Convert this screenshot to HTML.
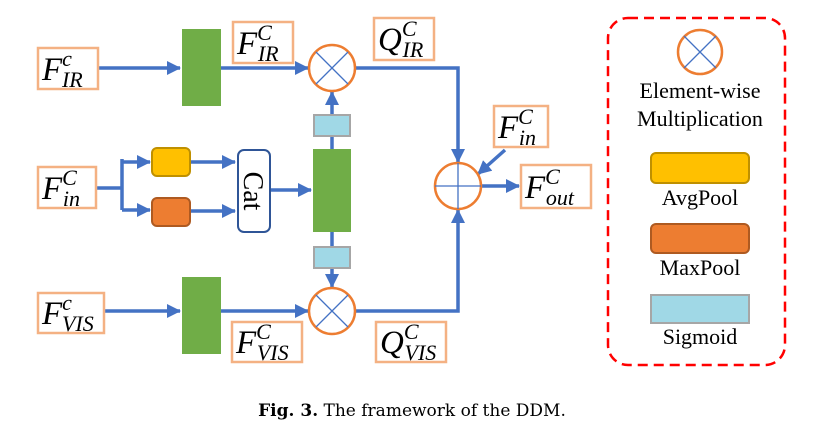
<!DOCTYPE html>
<html><head><meta charset="utf-8"><style>body{margin:0;background:#fff}svg{display:block}</style></head><body>
<svg width="824" height="437" viewBox="0 0 824 437" xmlns="http://www.w3.org/2000/svg">
<defs><marker id="b" markerWidth="14" markerHeight="14" refX="13" refY="7" orient="auto" markerUnits="userSpaceOnUse"><path d="M0,0 L14,7 L0,14 Z" fill="#4472c4"/></marker></defs>
<g fill="none" stroke="#4472c4" stroke-width="3.5">
<path d="M98 68 H180" marker-end="url(#b)"/>
<path d="M221 68 H308" marker-end="url(#b)"/>
<path d="M355 68 H458 V162" marker-end="url(#b)"/>
<path d="M104 311 H180" marker-end="url(#b)"/>
<path d="M221 311 H308" marker-end="url(#b)"/>
<path d="M355 311 H458 V210" marker-end="url(#b)"/>
<path d="M96 188 H122 M122 159 V210"/>
<path d="M122 162 H150" marker-end="url(#b)"/>
<path d="M122 210 H150" marker-end="url(#b)"/>
<path d="M190 162 H235" marker-end="url(#b)"/>
<path d="M190 211 H235" marker-end="url(#b)"/>
<path d="M270 190 H311" marker-end="url(#b)"/>
<path d="M332 149 V92" marker-end="url(#b)"/>
<path d="M332 232 V287" marker-end="url(#b)"/>
<path d="M505 150 L478 174" marker-end="url(#b)"/>
<path d="M481 186 H519" marker-end="url(#b)"/>
</g>
<g fill="#70ad47"><rect x="182" y="29" width="39" height="77"/><rect x="313" y="149" width="38" height="83"/><rect x="182" y="277" width="39" height="77"/></g>
<g fill="#a0d8e6" stroke="#a6a6a6" stroke-width="2"><rect x="314" y="115" width="36" height="21"/><rect x="314" y="247" width="36" height="21"/><rect x="651" y="295" width="98" height="28"/></g>
<g fill="#ffc000" stroke="#bf9000" stroke-width="2"><rect x="152" y="148" width="38" height="28" rx="5"/><rect x="651" y="153" width="98" height="30" rx="5"/></g>
<g fill="#ed7d31" stroke="#ae5a21" stroke-width="2"><rect x="152" y="198" width="38" height="28" rx="5"/><rect x="651" y="224" width="98" height="29" rx="5"/></g>
<rect x="238" y="150" width="32" height="82" rx="6" fill="#fff" stroke="#2f5597" stroke-width="2"/>
<text transform="translate(244,191) rotate(90)" text-anchor="middle" font-family="Liberation Serif,serif" font-size="28">Cat</text>
<g fill="#fff" stroke="#ed7d31" stroke-width="2.5">
<circle cx="332" cy="68" r="23"/><circle cx="332" cy="311" r="23"/><circle cx="458" cy="186" r="23"/><circle cx="700" cy="52" r="22"/></g>
<g stroke="#4472c4" stroke-width="1.3">
<path d="M316 52 L348 84 M348 52 L316 84"/><path d="M316 295 L348 327 M348 295 L316 327"/>
<path d="M435 186 H481 M458 163 V209"/><path d="M684 36 L716 68 M716 36 L684 68"/></g>
<g fill="#fff" stroke="#f4b183" stroke-width="2.5">
<rect x="38" y="48" width="60" height="41"/><rect x="233" y="22" width="60" height="41"/><rect x="374" y="18" width="60" height="42"/>
<rect x="38" y="167" width="58" height="41"/><rect x="494" y="106" width="54" height="41"/><rect x="521" y="165" width="70" height="43"/>
<rect x="38" y="293" width="66" height="40"/><rect x="232" y="322" width="70" height="40"/><rect x="376" y="322" width="70" height="40"/></g>
<g font-family="Liberation Serif,serif" font-style="italic" fill="#000">
<text x="42" y="80" font-size="33">F<tspan font-size="22" dy="-14">c</tspan><tspan font-size="22" dx="-10" dy="21">IR</tspan></text>
<text x="237" y="54" font-size="33">F<tspan font-size="22" dy="-14">C</tspan><tspan font-size="22" dx="-14" dy="21">IR</tspan></text>
<text x="378" y="50" font-size="33">Q<tspan font-size="22" dy="-14">C</tspan><tspan font-size="22" dx="-14" dy="21">IR</tspan></text>
<text x="42" y="199" font-size="33">F<tspan font-size="22" dy="-14">C</tspan><tspan font-size="22" dx="-14" dy="21">in</tspan></text>
<text x="498" y="138" font-size="33">F<tspan font-size="22" dy="-14">C</tspan><tspan font-size="22" dx="-14" dy="21">in</tspan></text>
<text x="525" y="198" font-size="33">F<tspan font-size="22" dy="-14">C</tspan><tspan font-size="22" dx="-14" dy="21">out</tspan></text>
<text x="42" y="324" font-size="33">F<tspan font-size="22" dy="-14">c</tspan><tspan font-size="22" dx="-10" dy="21">VIS</tspan></text>
<text x="236" y="353" font-size="33">F<tspan font-size="22" dy="-14">C</tspan><tspan font-size="22" dx="-14" dy="21">VIS</tspan></text>
<text x="380" y="353" font-size="33">Q<tspan font-size="22" dy="-14">C</tspan><tspan font-size="22" dx="-14" dy="21">VIS</tspan></text>
</g>
<rect x="608" y="18" width="177" height="347" rx="20" fill="none" stroke="#ff0000" stroke-width="2.5" stroke-dasharray="10,6"/>
<g font-family="Liberation Serif,serif" font-size="22" text-anchor="middle" fill="#000">
<text x="700" y="98">Element-wise</text><text x="700" y="126">Multiplication</text>
<text x="700" y="205">AvgPool</text><text x="700" y="275">MaxPool</text><text x="700" y="344">Sigmoid</text></g>
<text x="412" y="416" text-anchor="middle" font-family="DejaVu Serif,serif" font-size="17"><tspan font-weight="bold">Fig. 3.</tspan>  The framework of the DDM.</text>
</svg>
</body></html>
